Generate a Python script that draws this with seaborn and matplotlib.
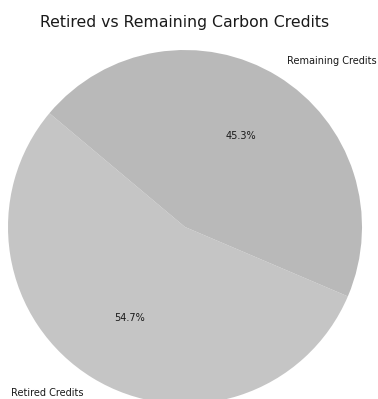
import matplotlib
matplotlib.use("Agg")
import matplotlib.pyplot as plt
import seaborn as sns

sns.set_style("white")
plt.rcParams["font.family"] = ["DejaVu Sans"]

# Share of carbon credits retired vs still available
categories = ["Retired Credits", "Remaining Credits"]
shares = [54.7, 45.3]
slice_colors = ["#c5c5c5", "#b9b9b9"]

W, H = 378, 399
fig = plt.figure(figsize=(W / 100, H / 100), dpi=100)

# Square axes in pixel space: radius of the pie ~177 px, centre at (185, 227) from top-left
r_px = 177
span = 2.5 * r_px
cx, cy = 185, H - 227
ax = fig.add_axes([(cx - span / 2) / W, (cy - span / 2) / H, span / W, span / H])

wedges, texts, autotexts = ax.pie(
    shares,
    labels=categories,
    colors=slice_colors,
    autopct="%1.1f%%",
    startangle=140,
    wedgeprops={"linewidth": 0, "edgecolor": "none"},
    textprops={"fontsize": 7, "color": "#1a1a1a"},
)
ax.set_xlim(-1.25, 1.25)
ax.set_ylim(-1.25, 1.25)
ax.set_aspect("equal")
ax.axis("off")

fig.text(185 / W, 1 - 22 / H, "Retired vs Remaining Carbon Credits",
         ha="center", va="center", fontsize=11.3, color="#1a1a1a")

fig.savefig("out.png", dpi=100)
